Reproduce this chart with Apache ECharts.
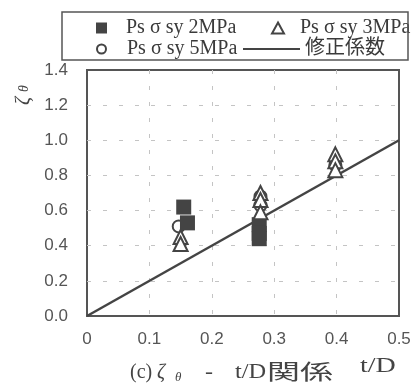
<!DOCTYPE html>
<html><head><meta charset="utf-8">
<script src="https://cdn.jsdelivr.net/npm/echarts@6/dist/echarts.min.js"></script>
<style>html,body{margin:0;padding:0;background:#fff}#c{width:415px;height:388px}</style>
</head><body><div id="c"></div>
<script>
const xTicks = [0, 0.1, 0.2, 0.3, 0.4, 0.5];
const yTicks = [0.0, 0.2, 0.4, 0.6, 0.8, 1.0, 1.2, 1.4];
const seriesNames = ['Ps σ sy 2MPa', 'Ps σ sy 3MPa', 'Ps σ sy 5MPa', '修正係数'];
const p2MPa = [[0.155, 0.62], [0.161, 0.53], [0.276, 0.52], [0.276, 0.47], [0.276, 0.44]];
const p3MPa = [[0.150, 0.45], [0.150, 0.41], [0.278, 0.70], [0.278, 0.66], [0.278, 0.59], [0.398, 0.92], [0.398, 0.88], [0.398, 0.83]];
const p5MPa = [[0.147, 0.51], [0.278, 0.68], [0.278, 0.63], [0.398, 0.86]];
const corrLine = [[0, 0], [0.5, 1.0]];

const serif = '"Liberation Serif", "Noto Sans CJK JP", serif';
const sans = '"Liberation Sans", Arial, sans-serif';

const chart = echarts.init(document.getElementById('c'), null, {renderer: 'canvas'});
const legTxt = {fontFamily: serif, fontSize: 20, color: '#3a3a3a', lineHeight: 20};
const txt = (s, x, y, font, sx, extra) => Object.assign({type: 'text', x: x, y: y, scaleX: sx || 1,
  style: {text: s, font: font, fill: '#444', textVerticalAlign: 'middle'}}, extra || {});
chart.setOption({
  animation: false,
  backgroundColor: '#fff',
  grid: {left: 87, right: 16, top: 70, bottom: 72, show: true, borderColor: '#555', borderWidth: 2, backgroundColor: 'transparent'},
  xAxis: {
    type: 'value', min: 0, max: 0.5, interval: 0.1,
    axisLine: {show: false}, axisTick: {show: false},
    axisLabel: {margin: 15, fontFamily: sans, fontSize: 17, color: '#555', formatter: v => (v === 0 ? '0' : v.toFixed(1))},
    splitLine: {show: true, showMinLine: false, showMaxLine: false, lineStyle: {color: '#c4c4c4', type: [4, 12], width: 1}}
  },
  yAxis: {
    type: 'value', min: 0, max: 1.4, interval: 0.2,
    axisLine: {show: false}, axisTick: {show: false},
    axisLabel: {margin: 19, fontFamily: sans, fontSize: 17, color: '#555', formatter: v => v.toFixed(1)},
    splitLine: {show: true, showMinLine: false, showMaxLine: false, lineStyle: {color: '#c4c4c4', type: [4, 12], width: 1}}
  },
  legend: [
    {data: [seriesNames[0]], left: 91, top: 13, itemWidth: 11, itemHeight: 11, textStyle: Object.assign({}, legTxt, {padding: [0, 0, 0, 14]})},
    {data: [seriesNames[1]], left: 266, top: 13, itemWidth: 12, itemHeight: 11, textStyle: Object.assign({}, legTxt, {padding: [0, 0, 0, 11]})},
    {data: [seriesNames[2]], left: 91, top: 34, itemWidth: 9, itemHeight: 9, textStyle: Object.assign({}, legTxt, {padding: [0, 0, 0, 16]})},
    {data: [seriesNames[3]], left: 238, top: 34, itemWidth: 57, itemHeight: 2, icon: 'rect', textStyle: legTxt}
  ],
  graphic: [
    {type: 'rect', shape: {x: 62, y: 12, width: 346, height: 48}, style: {fill: 'none', stroke: '#555', lineWidth: 1.5}, z: 100},
    {type: 'text', x: 24, y: 95, rotation: Math.PI / 2, style: {
      rich: {z: {font: 'italic 20px ' + serif, fill: '#444'}, s: {font: 'italic 14px ' + serif, fill: '#444'}},
      text: '{z|ζ }{s|θ}', textAlign: 'center', textVerticalAlign: 'middle'}},
    txt('t/D', 360, 367, '20px ' + serif, 1.4),
    txt('(c)', 130, 373, '20px ' + serif, 1.0),
    txt('ζ', 157, 373, 'italic 20px ' + serif, 1.0),
    txt('θ', 175, 378, 'italic 13px ' + serif, 1.0),
    txt('-', 205, 373, '20px ' + serif, 1.2),
    txt('t/D', 235, 373, '20px ' + serif, 1.22),
    txt('関係', 267, 373, '21px ' + serif, 1.57)
  ],
  series: [
    {name: seriesNames[3], type: 'line', data: corrLine, symbol: 'none', lineStyle: {color: '#444', width: 2.5}, itemStyle: {color: '#444'}, z: 1},
    {name: seriesNames[0], type: 'scatter', data: p2MPa, symbol: 'rect', symbolSize: 15, itemStyle: {color: '#444', opacity: 1}, z: 3},
    {name: seriesNames[1], type: 'scatter', data: p3MPa, symbol: 'triangle', symbolSize: 14, itemStyle: {color: '#fff', borderColor: '#444', borderWidth: 2, opacity: 1}, z: 4},
    {name: seriesNames[2], type: 'scatter', data: p5MPa, symbol: 'circle', symbolSize: 12, itemStyle: {color: '#fff', borderColor: '#444', borderWidth: 2, opacity: 1}, z: 2}
  ]
});
</script></body></html>
